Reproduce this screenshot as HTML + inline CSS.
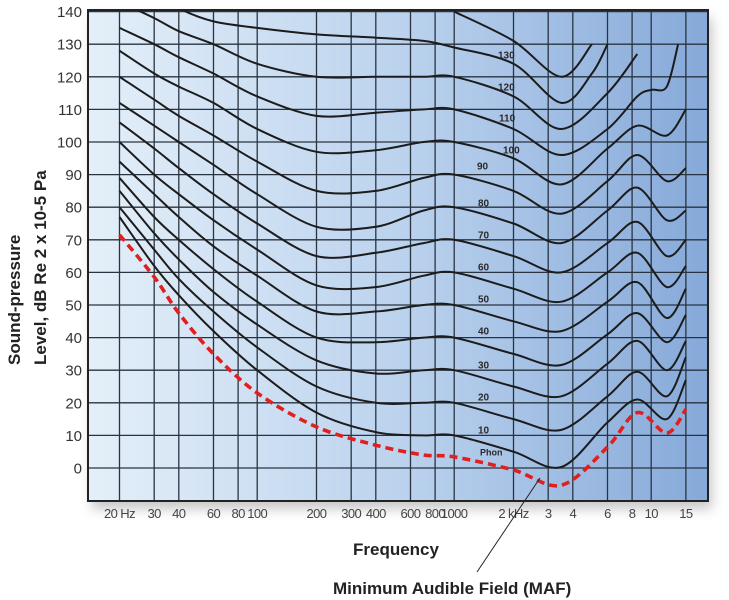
<!DOCTYPE html>
<html><head><meta charset="utf-8">
<style>
html,body{margin:0;padding:0;background:#fff;}
svg{display:block;font-family:"Liberation Sans",Arial,sans-serif;}
</style></head>
<body>
<svg id="chart" width="729" height="600" viewBox="0 0 729 600" xmlns="http://www.w3.org/2000/svg">
<defs>
<linearGradient id="bg" x1="0" y1="0" x2="1" y2="0">
<stop offset="0" stop-color="#e4eff9"/>
<stop offset="0.5" stop-color="#bcd3ee"/>
<stop offset="1" stop-color="#86a9d9"/>
</linearGradient>
<filter id="sh" x="-5%" y="-5%" width="115%" height="120%">
<feDropShadow dx="4" dy="8" stdDeviation="6" flood-color="#000" flood-opacity="0.22"/>
</filter>
<clipPath id="clip"><rect x="88" y="10" width="620" height="491"/></clipPath>
</defs>
<rect x="88" y="10" width="620" height="491" fill="url(#bg)" filter="url(#sh)"/>
<g id="grid"></g>
<g id="curves" clip-path="url(#clip)"></g>
<rect x="88" y="10" width="620" height="491" fill="none" stroke="#222" stroke-width="2"/>
<g id="yticks"></g>
<g id="xticks"></g>
<g id="plabels"></g>
<text transform="translate(20,365) rotate(-90)" font-size="17" font-weight="bold" fill="#222">Sound-pressure</text>
<text transform="translate(46,365) rotate(-90)" font-size="17" font-weight="bold" fill="#222">Level, dB Re 2 x 10-5 Pa</text>
<text x="396" y="555" text-anchor="middle" font-size="17" font-weight="bold" fill="#222">Frequency</text>
<line x1="477" y1="572" x2="540" y2="478" stroke="#222" stroke-width="1"/>
<text x="333" y="594" font-size="17" font-weight="bold" fill="#222">Minimum Audible Field (MAF)</text>
</svg>
<script>
const freqs = [20,30,40,60,100,200,400,700,1000,2000,3500,5000,6000,8500,10000,12000,13700,15000];
const phon10  = [77,62,53,42,30,17,11,10,10,5,0.3,null,14,21,null,15,null,27];
const phon20  = [80,67,58,48,37,25,20,20,20,15,11.7,null,22,29.5,null,22,null,34];
const phon30  = [85,72,64,54,44,33,29,30,30,25,22,null,32,39,null,30,null,39];
const phon40  = [89,77,70,61,51,40,38.6,40,40,35,31.6,null,41,47.5,null,38.6,null,47];
const phon50  = [94,84,77,68,59,48,48,50,50,45,42,null,51,57,null,46,null,55];
const phon60  = [100,90,84,76,67,56,55.5,59,60,55,51,null,60,66,null,55.5,null,62];
const phon70  = [106,98,92,84,75,65,66,69,70,65,60,null,69,75.5,null,65,null,70];
const phon80  = [112,105,100,93,84,74,74,79,80,75,69,null,79,86,null,76,null,79];
const phon90  = [120,113,108,102,94,85,85,89,90,85,78,null,88,96,null,88,null,92];
const phon100 = [128,121,117,112,104,97,97.5,100,100,95,87,null,98,105,null,102,null,110];
const phon110 = [135,130,126,121,114,108,109,110,110,104,96,null,104,114,116,117,130,null];
const phon120 = [143,138,134,130,124,120,120,120,120,114,104,null,115,127,null,null,null,null];
const phon130 = [null,146,141,137,135,133,132,131,129,124,112,121,130,null,null,null,null,null];
const phon140 = [null,null,null,null,null,null,null,null,140,131,120,130,null,null,null,null,null,null];
const mafValues = [71.5,58.6,47.5,35,23,12.6,7,4,3.4,-0.6,-5.3,null,6.4,17,null,10.7,null,18];
const curveSeries = [phon10,phon20,phon30,phon40,phon50,phon60,phon70,phon80,phon90,phon100,phon110,phon120,phon130,phon140];
const curveNames = ["10","20","30","40","50","60","70","80","90","100","110","120","130","140"];
const yTicks = [0,10,20,30,40,50,60,70,80,90,100,110,120,130,140];
const xGridFreqs = [20,30,40,60,80,100,200,300,400,600,800,1000,2000,3000,4000,6000,8000,10000,15000];
const xTickLabels = ["20 Hz","30","40","60","80","100","200","300","400","600","800","1000","2 kHz","3","4","6","8","10","15"];
const phonLabelText = ["Phon","10","20","30","40","50","60","70","80","90","100","110","120","130"];

const NS = "http://www.w3.org/2000/svg";
function xScale(f){ return 119.5 + 197 * Math.log10(f/20); }
function yScale(db){ return 468 - db * 3.26; }
function mk(tag, attrs, parent){ const e=document.createElementNS(NS,tag); for(const k in attrs) e.setAttribute(k,attrs[k]); parent.appendChild(e); return e; }

const grid = document.getElementById('grid');
yTicks.forEach(v=>{
  const l = mk('line',{x1:88,x2:708,y1:yScale(v),y2:yScale(v),stroke:'#2a3440','stroke-width':1.3},grid);
  
  
});
xGridFreqs.forEach(f=>{
  const l = mk('line',{x1:xScale(f),x2:xScale(f),y1:10,y2:501,stroke:'#2a3440','stroke-width':1.3},grid);
  
  
});

const yt = document.getElementById('yticks');
yTicks.forEach(v=>{
  const t = mk('text',{x:82,y:yScale(v)+5.5,'text-anchor':'end','font-size':15,fill:'#333'},yt);
  t.textContent = v;
  
  
});
const xt = document.getElementById('xticks');
xGridFreqs.forEach((f,i)=>{
  const t = mk('text',{x:xScale(f),y:518,'text-anchor':'middle','font-size':13,fill:'#444','letter-spacing':'-0.6'},xt);
  t.textContent = xTickLabels[i];
  
  
});

function pathFor(vals){
  const pts=[];
  vals.forEach((v,i)=>{ if(v!==null) pts.push([xScale(freqs[i]), yScale(v)]); });
  if(pts.length<2) return '';
  let d='M'+pts[0][0].toFixed(1)+','+pts[0][1].toFixed(1);
  for(let i=0;i<pts.length-1;i++){
    const p0=pts[Math.max(0,i-1)], p1=pts[i], p2=pts[i+1], p3=pts[Math.min(pts.length-1,i+2)];
    const t=0.16;
    const c1=[p1[0]+(p2[0]-p0[0])*t, p1[1]+(p2[1]-p0[1])*t];
    const c2=[p2[0]-(p3[0]-p1[0])*t, p2[1]-(p3[1]-p1[1])*t];
    d+=' C'+c1[0].toFixed(1)+','+c1[1].toFixed(1)+' '+c2[0].toFixed(1)+','+c2[1].toFixed(1)+' '+p2[0].toFixed(1)+','+p2[1].toFixed(1);
  }
  return d;
}
const cg = document.getElementById('curves');
curveSeries.forEach((vals,i)=>{
  const p = mk('path',{d:pathFor(vals),fill:'none',stroke:'#1c1c1c','stroke-width':2},cg);
  
  
});
const maf = mk('path',{d:pathFor(mafValues),fill:'none',stroke:'#e0201e','stroke-width':3.6,'stroke-dasharray':'8 5'},cg);



const labelPos = [[480,452],[478,430],[478,397],[478,365],[478,331],[478,299],[478,267],[478,235],[478,203],[477,166],[503,150],[499,118],[498,87],[498,55]];
const pl = document.getElementById('plabels');
phonLabelText.forEach((s,i)=>{
  const t = mk('text',{x:labelPos[i][0],y:labelPos[i][1]+3.5,'font-size':i===0?9:10,'font-weight':'bold',fill:'#2a2a2a'},pl);
  t.textContent = s;
  
  
});
</script>
</body></html>
